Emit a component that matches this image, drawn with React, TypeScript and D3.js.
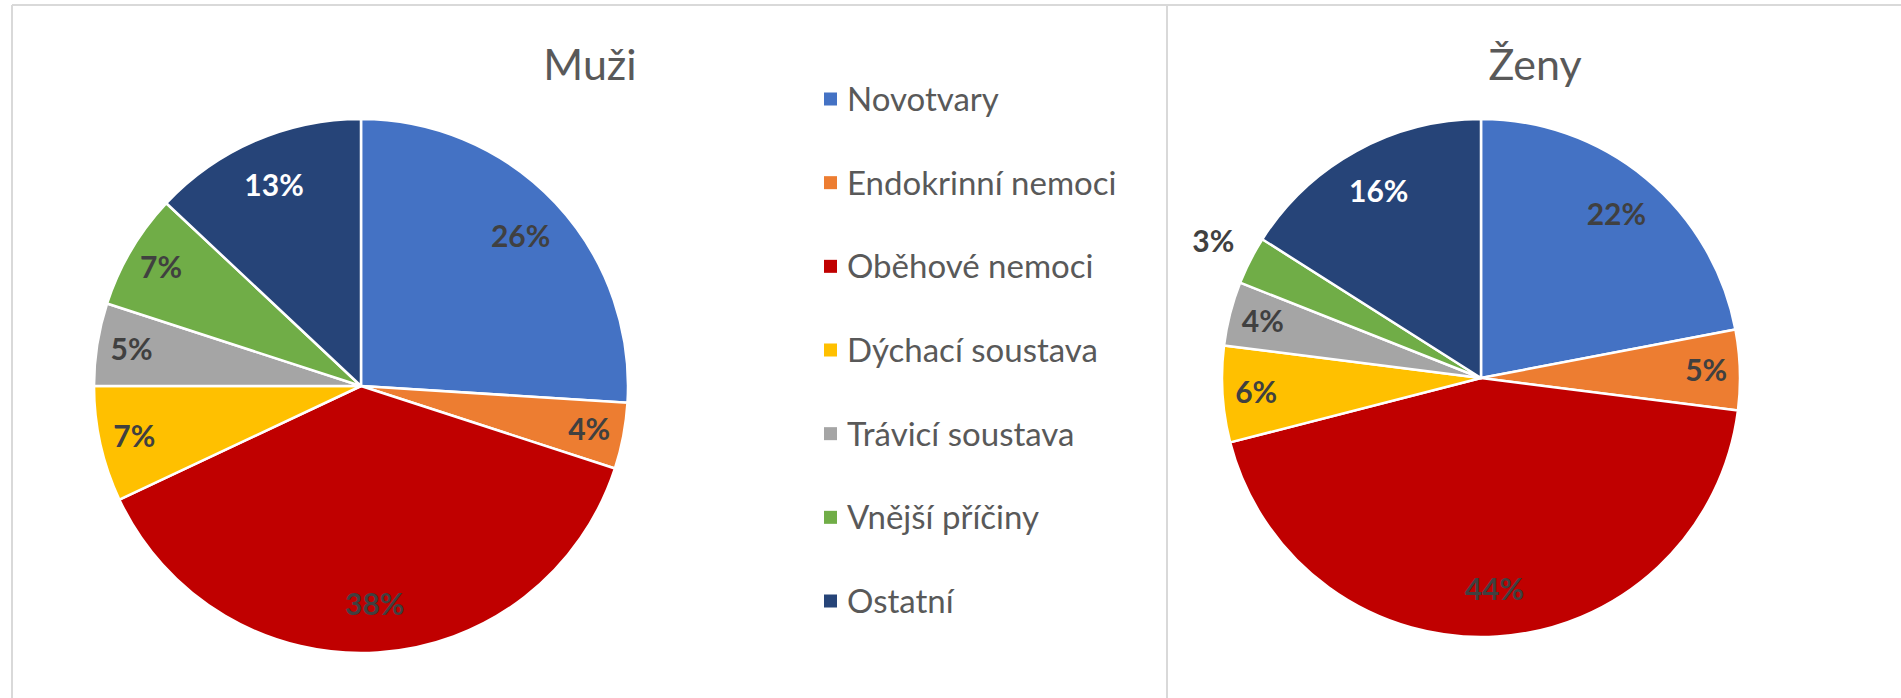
import React from "react";
import * as d3 from "d3";

const categories = [
  "Novotvary",
  "Endokrinní nemoci",
  "Oběhové nemoci",
  "Dýchací soustava",
  "Trávicí soustava",
  "Vnější příčiny",
  "Ostatní",
];
const colors = ["#4472C4", "#ED7D31", "#C00000", "#FFC000", "#A5A5A5", "#70AD47", "#264478"];
const muziValues = [26, 4, 38, 7, 5, 7, 13];
const zenyValues = [22, 5, 44, 6, 4, 3, 16];
const chartTitles = ["Muži", "Ženy"];

const W = 1901;
const H = 698;
const FONT = "Lato, 'Open Sans', sans-serif";

type PieProps = { values: number[]; cx: number; cy: number; r: number; title: string; titleX: number };

function Pie({ values, cx, cy, r, title, titleX }: PieProps) {
  const pie = d3.pie<number>().sort(null).value((d) => d);
  const arcs = pie(values);
  const arc = d3.arc<d3.PieArcDatum<number>>().innerRadius(0).outerRadius(r);
  const total = d3.sum(values);
  return (
    <g>
      <text x={titleX} y={80} textAnchor="middle" fontFamily={FONT} fontSize={43} fill="#595959">
        {title}
      </text>
      <g transform={`translate(${cx},${cy})`}>
        {arcs.map((a, i) => (
          <path key={i} d={arc(a) || ""} fill={colors[i]} stroke="#fff" strokeWidth={2.5} strokeLinejoin="round" />
        ))}
        {arcs.map((a, i) => {
          const pct = a.value / total;
          const mid = (a.startAngle + a.endAngle) / 2;
          const outside = pct < 0.035;
          const k = outside ? 1.16 : pct >= 0.1 ? 0.82 : 0.87;
          const x = Math.sin(mid) * r * k;
          const y = -Math.cos(mid) * r * k;
          const dark = i === 6;
          return (
            <text
              key={"l" + i}
              x={x}
              y={y}
              dy="0.35em"
              textAnchor="middle"
              fontFamily={FONT}
              fontWeight={700}
              fontSize={30}
              fill={dark ? "#ffffff" : "#404040"}
            >
              {d3.format(".0%")(pct)}
            </text>
          );
        })}
      </g>
    </g>
  );
}

export default function App() {
  const legendY = d3.scalePoint<string>().domain(categories).range([99, 601]);
  return (
    <svg
      width={W}
      height={H}
      viewBox={`0 0 ${W} ${H}`}
      style={{ position: "absolute", left: 0, top: 0, display: "block", background: "#fff" }}
    >
      <rect x={0} y={0} width={W} height={H} fill="#fff" />
      <line x1={12} y1={5} x2={W} y2={5} stroke="#d9d9d9" strokeWidth={2} />
      <line x1={12} y1={5} x2={12} y2={H} stroke="#d9d9d9" strokeWidth={2} />
      <line x1={1167} y1={5} x2={1167} y2={H} stroke="#d9d9d9" strokeWidth={2} />
      <Pie values={muziValues} cx={361} cy={386} r={267} title={chartTitles[0]} titleX={590} />
      <Pie values={zenyValues} cx={1481} cy={378} r={259} title={chartTitles[1]} titleX={1535} />
      <g>
        {categories.map((c, i) => (
          <g key={c} transform={`translate(0,${legendY(c)})`}>
            <rect x={824} y={-6.5} width={13} height={13} fill={colors[i]} />
            <text x={847} y={0} dy="0.36em" fontFamily={FONT} fontSize={33} fill="#595959">
              {c}
            </text>
          </g>
        ))}
      </g>
    </svg>
  );
}
